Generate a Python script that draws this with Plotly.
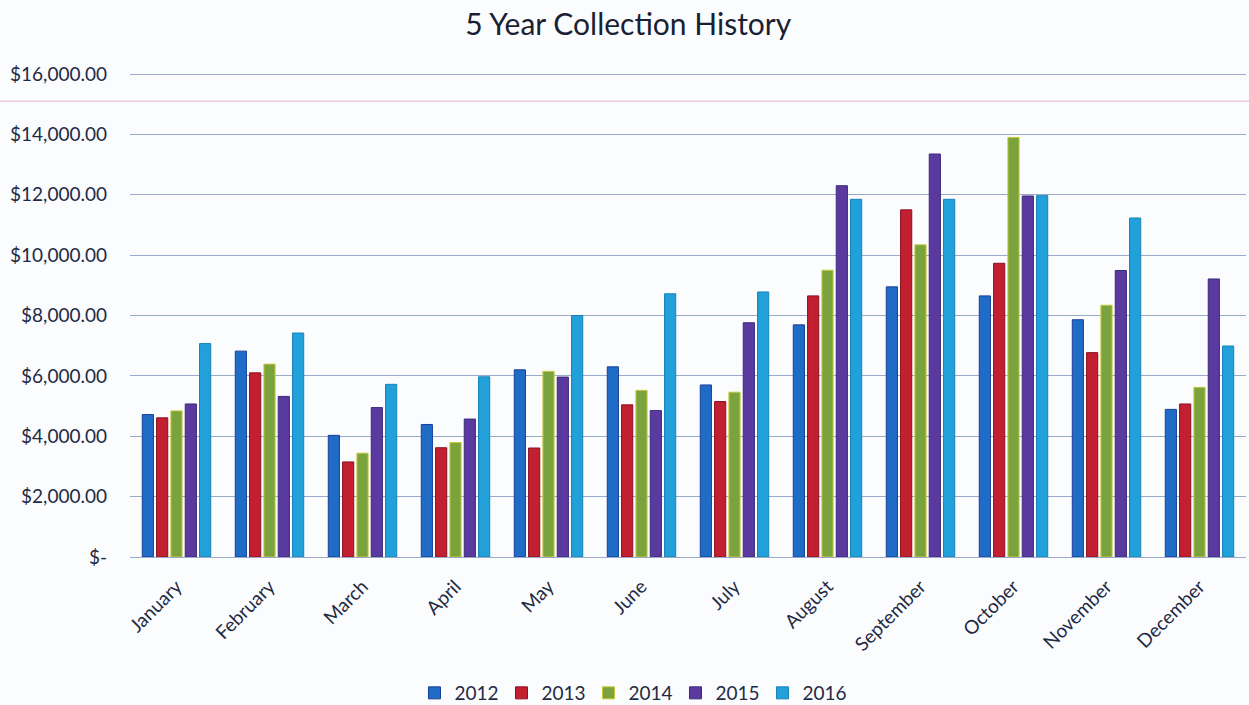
import plotly.graph_objects as go

months = ["January", "February", "March", "April", "May", "June", "July",
          "August", "September", "October", "November", "December"]
years = ["2012", "2013", "2014", "2015", "2016"]

v2012 = [4720, 6820, 4030, 4390, 6200, 6300, 5700, 7690, 8950, 8650, 7860, 4890]
v2013 = [4610, 6100, 3150, 3620, 3610, 5040, 5150, 8650, 11500, 9730, 6770, 5070]
v2014 = [4840, 6390, 3440, 3790, 6150, 5520, 5460, 9500, 10340, 13900, 8340, 5620]
v2015 = [5070, 5320, 4950, 4570, 5960, 4850, 7760, 12300, 13350, 11960, 9490, 9210]
v2016 = [7070, 7420, 5720, 5970, 8000, 8720, 8780, 11850, 11850, 11970, 11230, 6990]
series = [v2012, v2013, v2014, v2015, v2016]

fills = ["#1f6cc6", "#c21f30", "#7ba33d", "#5b3a9f", "#21a0d9"]
edges = ["#1a3f9a", "#8a1020", "#c9c83a", "#3a2a7a", "#1783b8"]

tickvals = [0, 2000, 4000, 6000, 8000, 10000, 12000, 14000, 16000]
ticktext = ["$-", "$2,000.00", "$4,000.00", "$6,000.00", "$8,000.00",
            "$10,000.00", "$12,000.00", "$14,000.00", "$16,000.00"]

fig = go.Figure()
for name, vals, fc, ec in zip(years, series, fills, edges):
    fig.add_trace(go.Bar(x=months, y=vals, name=name,
                         marker=dict(color=fc, line=dict(color=ec, width=1))))

fig.update_layout(
    width=1249, height=705,
    paper_bgcolor="#fbfcfe", plot_bgcolor="#fbfcfe",
    margin=dict(l=130, r=3, t=71, b=148, autoexpand=False),
    barmode="group", bargap=0.23, bargroupgap=0.22,
    font=dict(family="Lato, Open Sans, sans-serif", color="#1f2a44"),
    title=dict(text="5 Year Collection History", x=0.503, xanchor="center",
               y=0.965, yanchor="middle",
               font=dict(size=30, color="#1a1f33", family="Lato, Open Sans, sans-serif")),
    legend=dict(orientation="h", xref="container", yref="container",
                x=0.506, xanchor="center", y=0.017, yanchor="middle",
                font=dict(size=19, color="#1f2a44"), entrywidth=42,
                entrywidthmode="pixels", bgcolor="rgba(0,0,0,0)"),
    showlegend=True,
    shapes=[dict(type="line", xref="paper", yref="paper", x0=-0.2, x1=1.2,
                 y0=0.938, y1=0.938, line=dict(color="#e6b4dc", width=1))],
)
fig.update_yaxes(range=[0, 16100], tickvals=tickvals, ticktext=ticktext,
                 showgrid=True, gridcolor="#9aaacb", gridwidth=1,
                 zeroline=False, showline=False, automargin=False,
                 tickfont=dict(size=19, color="#1f2a44"), ticklabelstandoff=22)
fig.update_xaxes(tickangle=-45, tickfont=dict(size=19, color="#1f2a44"),
                 showline=True, linecolor="#9aaacb", linewidth=1, automargin=False,
                 ticks="", showgrid=False, ticklabelstandoff=10)

fig.write_html("out.html", config={"displayModeBar": False},
               post_script="document.body.style.margin='0';document.body.style.padding='0';")
